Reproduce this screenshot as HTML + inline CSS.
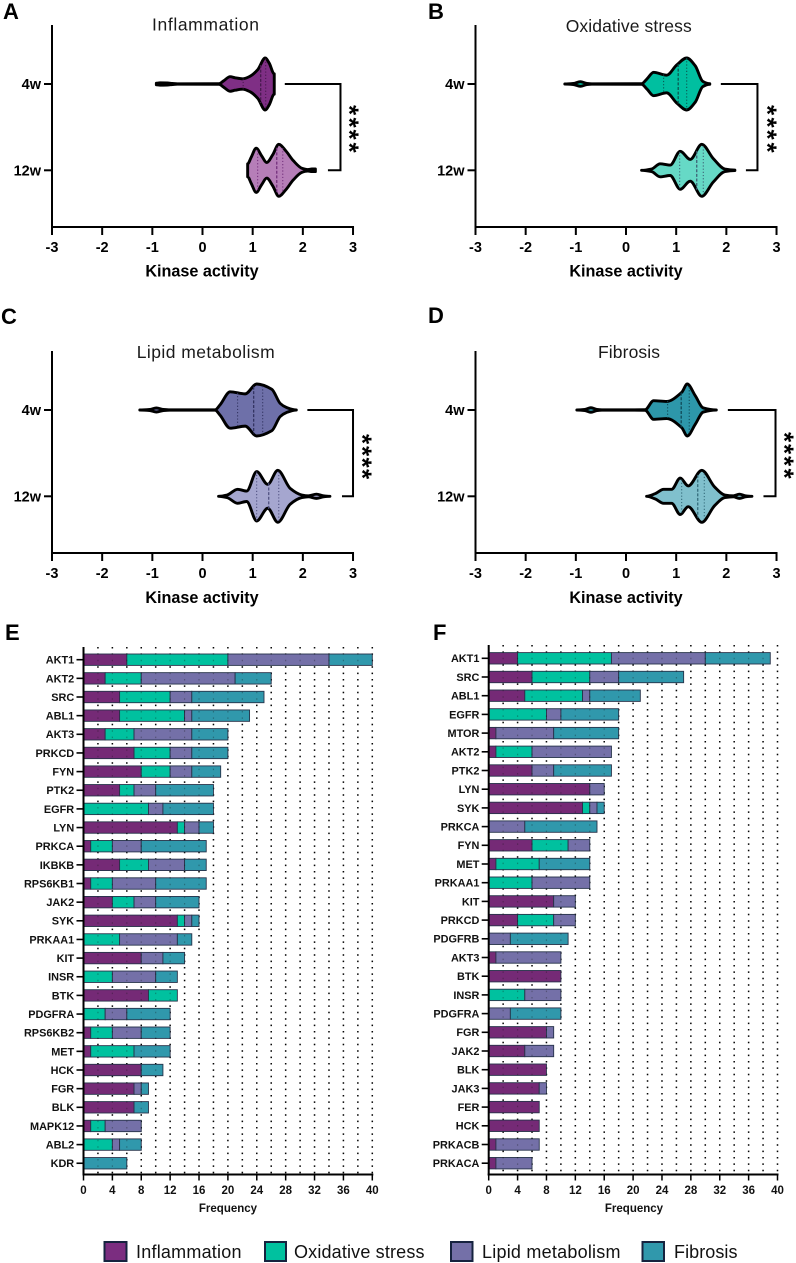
<!DOCTYPE html>
<html lang="en">
<head>
<meta charset="utf-8">
<title>Kinase activity panels</title>
<style>
html,body{margin:0;padding:0;background:#fff;}
svg{display:block;font-family:"Liberation Sans",sans-serif;filter:blur(0.3px);}
.panel-letter{font-size:22px;font-weight:700;fill:#000;}
.title{font-size:17.5px;fill:#1a1a1a;}
.axis-title{font-size:16.2px;font-weight:700;fill:#000;text-anchor:middle;}
.tick{font-size:14.5px;font-weight:700;fill:#000;}
.bar-label{font-size:10.9px;font-weight:700;fill:#111;text-anchor:end;}
.bar-tick{font-size:11.5px;font-weight:700;fill:#111;text-anchor:middle;}
.freq{font-size:11.5px;font-weight:700;fill:#111;text-anchor:middle;}
.legend-text{font-size:18px;fill:#111;}
</style>
</head>
<body>
<svg id="fig" xmlns="http://www.w3.org/2000/svg" width="796" height="1263" viewBox="0 0 796 1263">
  <rect width="796" height="1263" fill="#fff"/>

  <text class="panel-letter" x="3" y="19">A</text>
  <text class="panel-letter" x="428" y="19">B</text>
  <text class="panel-letter" x="1" y="324">C</text>
  <text class="panel-letter" x="428" y="323">D</text>
  <text class="panel-letter" x="5" y="640">E</text>
  <text class="panel-letter" x="433" y="640">F</text>

  <text class="title" x="152" y="30.5" textLength="107">Inflammation</text>
  <text class="title" x="565.7" y="32" textLength="126">Oxidative stress</text>
  <text class="title" x="136.7" y="358" textLength="138">Lipid metabolism</text>
  <text class="title" x="598" y="358" textLength="62">Fibrosis</text>

  <text class="axis-title" x="202" y="276.5">Kinase activity</text>
  <text class="axis-title" x="626" y="276.5">Kinase activity</text>
  <text class="axis-title" x="202" y="603">Kinase activity</text>
  <text class="axis-title" x="626" y="603">Kinase activity</text>

  <text class="freq" x="228" y="1212">Frequency</text>
  <text class="freq" x="634" y="1212">Frequency</text>

  <g id="violins"></g>
  <g id="bars"></g>

  <g>
    <g>
      <rect x="104.5" y="1242" width="22" height="19" fill="#7b2d80" stroke="#16233f" stroke-width="2"/>
      <text class="legend-text" x="136" y="1258" textLength="105.5">Inflammation</text>
    </g>
    <g>
      <rect x="265" y="1242" width="21" height="19" fill="#00c19f" stroke="#16233f" stroke-width="2"/>
      <text class="legend-text" x="294" y="1258" textLength="130.5">Oxidative stress</text>
    </g>
    <g>
      <rect x="451" y="1242" width="21.5" height="19" fill="#7470a8" stroke="#16233f" stroke-width="2"/>
      <text class="legend-text" x="482" y="1258" textLength="138.5">Lipid metabolism</text>
    </g>
    <g>
      <rect x="642.5" y="1242" width="21.5" height="19" fill="#3098ac" stroke="#16233f" stroke-width="2"/>
      <text class="legend-text" x="674" y="1258" textLength="63.5">Fibrosis</text>
    </g>
  </g>
</svg>

<script>
/* ---------- violin data: kinase activity vs relative density ---------- */
const violinTicks = [-3, -2, -1, 0, 1, 2, 3];
const groupLabels = ['4w', '12w'];

const a4wActivity = [-0.92, -0.85, -0.7, -0.6, -0.5, 0.33, 0.42, 0.55, 0.65, 0.8, 0.95, 1.1, 1.25, 1.33, 1.43];
const a4wDensity = [0.03, 0.045, 0.04, 0.02, 0.005, 0.01, 0.12, 0.28, 0.24, 0.2, 0.3, 0.55, 1, 0.8, 0.39];
const a4wLines = [0.81, 1.16, 1.26];
const a12wActivity = [0.9, 0.97, 1.07, 1.18, 1.28, 1.4, 1.52, 1.66, 1.81, 1.98, 2.1, 2.18, 2.25];
const a12wDensity = [0.25, 0.5, 0.85, 0.55, 0.3, 0.6, 1, 0.75, 0.37, 0.08, 0.03, 0.05, 0.05];
const a12wLines = [1.1, 1.48, 1.6];

const b4wActivity = [-1.22, -1.05, -0.91, -0.78, -0.68, 0.31, 0.42, 0.55, 0.81, 1.01, 1.21, 1.38, 1.53, 1.67];
const b4wDensity = [0, 0.02, 0.09, 0.02, 0.005, 0.01, 0.2, 0.45, 0.34, 0.73, 1, 0.7, 0.1, 0.01];
const b4wLines = [0.75, 1.04, 1.21];
const b12wActivity = [0.31, 0.51, 0.68, 0.88, 1.08, 1.28, 1.51, 1.74, 1.97, 2.17];
const b12wDensity = [0, 0.05, 0.25, 0.2, 0.73, 0.42, 1, 0.45, 0.05, 0.01];
const b12wLines = [1.07, 1.41, 1.54];

const c4wActivity = [-1.25, -1.05, -0.92, -0.78, -0.65, 0.25, 0.35, 0.55, 0.85, 1.08, 1.38, 1.55, 1.67, 1.87];
const c4wDensity = [0, 0.02, 0.08, 0.02, 0.005, 0.005, 0.2, 0.7, 0.62, 1, 0.8, 0.25, 0.1, 0];
const c4wLines = [0.7, 1.02, 1.2];
const c12wActivity = [0.32, 0.49, 0.7, 0.88, 1.08, 1.3, 1.5, 1.75, 1.98, 2.11, 2.27, 2.41, 2.54];
const c12wDensity = [0, 0.05, 0.27, 0.2, 0.95, 0.46, 1, 0.3, 0.05, 0.02, 0.08, 0.02, 0];
const c12wLines = [1.08, 1.32, 1.52];

const d4wActivity = [-0.98, -0.82, -0.7, -0.58, -0.48, 0.38, 0.55, 0.81, 1.11, 1.22, 1.38, 1.54, 1.8];
const d4wDensity = [0, 0.02, 0.09, 0.02, 0.005, 0.01, 0.36, 0.33, 0.68, 1, 0.55, 0.08, 0];
const d4wLines = [0.83, 1.1, 1.26];
const d12wActivity = [0.41, 0.58, 0.75, 0.91, 1.08, 1.24, 1.51, 1.77, 1.97, 2.14, 2.26, 2.38, 2.51];
const d12wDensity = [0, 0.1, 0.27, 0.27, 0.7, 0.4, 1, 0.35, 0.05, 0.02, 0.08, 0.02, 0];
const d12wLines = [1.11, 1.43, 1.56];

/* bracket ends: 4w end, vertical run, 12w end (kinase activity) */
const bracketA = [1.64, 2.75, 2.5];
const bracketB = [1.89, 2.62, 2.39];
const bracketC = [2.09, 3.0, 2.78];
const bracketD = [2.03, 2.98, 2.74];
const significanceMark = '*';
const significanceCount = 4;

/* ---------- stacked bar data ---------- */
const freqTicks = [0, 4, 8, 12, 16, 20, 24, 28, 32, 36, 40];
const seriesNames = ['inflammation', 'oxidative-stress', 'lipid-metabolism', 'fibrosis'];

const kinasesE = ['AKT1','AKT2','SRC','ABL1','AKT3','PRKCD','FYN','PTK2','EGFR','LYN','PRKCA','IKBKB','RPS6KB1','JAK2','SYK','PRKAA1','KIT','INSR','BTK','PDGFRA','RPS6KB2','MET','HCK','FGR','BLK','MAPK12','ABL2','KDR'];
const inflammationE = [6,3,5,5,3,7,8,5,0,13,1,5,1,4,13,0,8,0,9,0,1,1,8,7,7,1,0,0];
const oxidativeE =    [14,5,7,9,4,5,4,2,9,1,3,4,3,3,1,5,0,4,4,3,3,6,0,0,0,2,4,0];
const lipidE =        [14,13,3,1,8,3,3,3,2,2,4,5,6,3,1,8,3,6,0,3,4,0,0,1,0,5,1,0];
const fibrosisE =     [6,5,10,8,5,5,4,8,7,2,9,3,7,6,1,2,3,3,0,6,4,5,3,1,2,0,3,6];

const kinasesF = ['AKT1','SRC','ABL1','EGFR','MTOR','AKT2','PTK2','LYN','SYK','PRKCA','FYN','MET','PRKAA1','KIT','PRKCD','PDGFRB','AKT3','BTK','INSR','PDGFRA','FGR','JAK2','BLK','JAK3','FER','HCK','PRKACB','PRKACA'];
const inflammationF = [4,6,5,0,1,1,6,14,13,0,6,1,0,9,4,0,1,10,0,0,8,5,8,7,7,7,1,1];
const oxidativeF =    [13,8,8,8,0,5,0,0,1,0,5,6,6,0,5,0,0,0,5,0,0,0,0,0,0,0,0,0];
const lipidF =        [13,4,1,2,8,11,3,2,1,5,3,0,8,3,3,3,9,0,5,3,1,4,0,1,0,0,6,5];
const fibrosisF =     [9,9,7,8,9,0,8,0,1,10,0,7,0,0,0,8,0,0,0,7,0,0,0,0,0,0,0,0];

/* ---------- rendering ---------- */
const NS = 'http://www.w3.org/2000/svg';
function make(parent, tag, attrs, text) {
  const node = document.createElementNS(NS, tag);
  for (const k in attrs) node.setAttribute(k, attrs[k]);
  if (text !== undefined) node.textContent = text;
  parent.appendChild(node);
  return node;
}

function smoothThrough(pts) {
  const n = pts.length, m = [];
  for (let i = 0; i < n; i++) {
    if (i === 0 || i === n - 1) { m.push(0); continue; }
    const d0 = (pts[i][1] - pts[i-1][1]) / (pts[i][0] - pts[i-1][0]);
    const d1 = (pts[i+1][1] - pts[i][1]) / (pts[i+1][0] - pts[i][0]);
    m.push(d0 * d1 <= 0 ? 0 : 2 * d0 * d1 / (d0 + d1));
  }
  let d = '';
  for (let i = 0; i < n - 1; i++) {
    const h = (pts[i+1][0] - pts[i][0]) / 3;
    d += 'C' + (pts[i][0] + h).toFixed(2) + ' ' + (pts[i][1] + m[i] * h).toFixed(2) + ' ' +
         (pts[i+1][0] - h).toFixed(2) + ' ' + (pts[i+1][1] - m[i+1] * h).toFixed(2) + ' ' +
         pts[i+1][0].toFixed(2) + ' ' + pts[i+1][1].toFixed(2);
  }
  return d;
}

function densityAt(xs, ds, v) {
  for (let i = 0; i < xs.length - 1; i++) {
    if (v >= xs[i] && v <= xs[i+1]) {
      return ds[i] + (ds[i+1] - ds[i]) * (v - xs[i]) / (xs[i+1] - xs[i]);
    }
  }
  return 0;
}

const violinPanels = [
  { id:'a', x0:52, y4w:84, starX:355, starYs:[110,122.5,134.5,147.5], fill:['#7f2f85','#b67eb8'], line:['#43174a','#6f2a78'],
    series:[[a4wActivity,a4wDensity,a4wLines],[a12wActivity,a12wDensity,a12wLines]], bracket:bracketA },
  { id:'b', x0:475.5, y4w:84, starX:773, starYs:[110,122.5,134.5,147.5], fill:['#00bfa0','#66d9c6'], line:['#0a4f4a','#3b5a70'],
    series:[[b4wActivity,b4wDensity,b4wLines],[b12wActivity,b12wDensity,b12wLines]], bracket:bracketB },
  { id:'c', x0:52, y4w:410, starX:368, starYs:[439,451,462.5,474], fill:['#6e70a9','#a5a6cf'], line:['#2e2f5c','#4a4b7c'],
    series:[[c4wActivity,c4wDensity,c4wLines],[c12wActivity,c12wDensity,c12wLines]], bracket:bracketC },
  { id:'d', x0:475.5, y4w:410, starX:790, starYs:[437,449,461,473.5], fill:['#2d97aa','#80c0cd'], line:['#0d4350','#2d6474'],
    series:[[d4wActivity,d4wDensity,d4wLines],[d12wActivity,d12wDensity,d12wLines]], bracket:bracketD }
];

const violinRoot = document.getElementById('violins');
const UNIT = 50.17, GROUP_STEP = 86.3, HALF = 26;

violinPanels.forEach(function (p) {
  const xScale = function (v) { return p.x0 + (v + 3) * UNIT; };
  const yScale = function (i) { return p.y4w + i * GROUP_STEP; };
  const yTop = p.y4w - 59, yBottom = p.y4w + 143;

  const g = make(violinRoot, 'g', {});
  
  

  p.series.forEach(function (s, gi) {
    const xs = s[0], ds = s[1], lines = s[2], cy = yScale(gi);
    const upper = xs.map(function (v, i) { return [xScale(v), cy - ds[i] * HALF]; });
    const lower = xs.map(function (v, i) { return [xScale(v), cy + ds[i] * HALF]; }).reverse();
    const d = 'M' + upper[0][0].toFixed(2) + ' ' + upper[0][1].toFixed(2) + smoothThrough(upper) +
              'L' + lower[0][0].toFixed(2) + ' ' + lower[0][1].toFixed(2) + smoothThrough(lower) + 'Z';
    const body = make(g, 'path', { d: d, fill: p.fill[gi], stroke: '#000', 'stroke-width': 2.9, 'stroke-linejoin': 'round' });
    
    

    lines.forEach(function (v, li) {
      const h = densityAt(xs, ds, v) * HALF;
      const q = make(g, 'line', { x1: xScale(v), x2: xScale(v), y1: cy - h, y2: cy + h, stroke: p.line[gi],
        'stroke-width': li === 1 ? 1.2 : 1, 'stroke-dasharray': li === 1 ? '3 1.6' : '1.2 2' });
      
      
    });
  });

  const yAxis = make(g, 'line', { x1: p.x0, x2: p.x0, y1: yTop, y2: yBottom + 1, stroke: '#000', 'stroke-width': 2 });
  
  
  const xAxis = make(g, 'line', { x1: p.x0 - 1, x2: xScale(3) + 1, y1: yBottom, y2: yBottom, stroke: '#000', 'stroke-width': 2 });
  
  

  violinTicks.forEach(function (t) {
    const tick = make(g, 'line', { x1: xScale(t), x2: xScale(t), y1: yBottom, y2: yBottom + 8, stroke: '#000', 'stroke-width': 2 });
    
    
    const label = make(g, 'text', { class: 'tick', x: xScale(t), y: yBottom + 25, 'text-anchor': 'middle' }, String(t));
    
    
  });

  groupLabels.forEach(function (name, gi) {
    const cy = yScale(gi);
    const tick = make(g, 'line', { x1: p.x0 - 8, x2: p.x0, y1: cy, y2: cy, stroke: '#000', 'stroke-width': 2 });
    
    
    const label = make(g, 'text', { class: 'tick', x: p.x0 - 11, y: cy + 5.2, 'text-anchor': 'end' }, name);
    
    
  });

  const b = p.bracket;
  const bracket = make(g, 'path', { d: 'M' + xScale(b[0]) + ' ' + yScale(0) + 'H' + xScale(b[1]) + 'V' + yScale(1) + 'H' + xScale(b[2]),
    fill: 'none', stroke: '#000', 'stroke-width': 2 });
  
  

  for (let i = 0; i < significanceCount; i++) {
    const sy = p.starYs[i];
    const star = make(g, 'text', { x: p.starX, y: sy + 14.5, 'text-anchor': 'middle', 'font-size': 26, 'font-weight': 700, fill: '#000',
      transform: 'rotate(90 ' + p.starX + ' ' + sy + ')' }, significanceMark);
    
    
  }
});

const barPanels = [
  { id:'e', x0:83.5, top:647, first:659.7, step:18.65, names:kinasesE, stacks:[inflammationE, oxidativeE, lipidE, fibrosisE] },
  { id:'f', x0:488.7, top:645, first:658.3, step:18.7, names:kinasesF, stacks:[inflammationF, oxidativeF, lipidF, fibrosisF] }
];
const barColors = ['#752a76', '#00c19f', '#7470a8', '#3098ac'];
const barsRoot = document.getElementById('bars');
const BAR_UNIT = 7.22, AXIS_BOTTOM = 1174.5, BAR_H = 11.4, GRID_MAX = 40, GRID_STEP = 2;

barPanels.forEach(function (p) {
  const xScale = function (v) { return p.x0 + v * BAR_UNIT; };
  const yScale = function (i) { return p.first + i * p.step; };
  const g = make(barsRoot, 'g', {});
  
  

  for (let v = GRID_STEP; v <= GRID_MAX; v += GRID_STEP) {
    const grid = make(g, 'line', { x1: xScale(v), x2: xScale(v), y1: p.top, y2: AXIS_BOTTOM, stroke: '#000', 'stroke-width': 1.5, 'stroke-dasharray': '1.5 4.9' });
    
    
  }

  p.names.forEach(function (name, i) {
    const cy = yScale(i);
    let running = 0;
    p.stacks.forEach(function (series, si) {
      const val = series[i];
      if (!val) return;
      const seg = make(g, 'rect', { x: xScale(running), y: cy - BAR_H / 2, width: val * BAR_UNIT, height: BAR_H, fill: barColors[si], stroke: '#27334a', 'stroke-width': 0.9 });
      
      
      running += val;
    });
    const tick = make(g, 'line', { x1: p.x0 - 7, x2: p.x0, y1: cy, y2: cy, stroke: '#000', 'stroke-width': 1.6 });
    
    
    const label = make(g, 'text', { class: 'bar-label', x: p.x0 - 9.3, y: cy + 3.9 }, name);
    
    
  });

  for (let v = GRID_STEP; v <= GRID_MAX; v += GRID_STEP) {
    const over = make(g, 'line', { x1: xScale(v), x2: xScale(v), y1: p.top, y2: AXIS_BOTTOM, stroke: '#111', 'stroke-width': 1.2, 'stroke-dasharray': '1.5 4.9', opacity: 0.3 });
    
    
  }

  const yAxis = make(g, 'line', { x1: p.x0, x2: p.x0, y1: p.top, y2: AXIS_BOTTOM + 1, stroke: '#000', 'stroke-width': 2 });
  
  
  const xAxis = make(g, 'line', { x1: p.x0 - 1, x2: xScale(GRID_MAX) + 1, y1: AXIS_BOTTOM, y2: AXIS_BOTTOM, stroke: '#000', 'stroke-width': 2 });
  
  

  freqTicks.forEach(function (t) {
    const tick = make(g, 'line', { x1: xScale(t), x2: xScale(t), y1: AXIS_BOTTOM, y2: AXIS_BOTTOM + 6, stroke: '#000', 'stroke-width': 1.5 });
    
    
    const label = make(g, 'text', { class: 'bar-tick', x: xScale(t), y: 1194 }, String(t));
    
    
  });
});
</script>
</body>
</html>
